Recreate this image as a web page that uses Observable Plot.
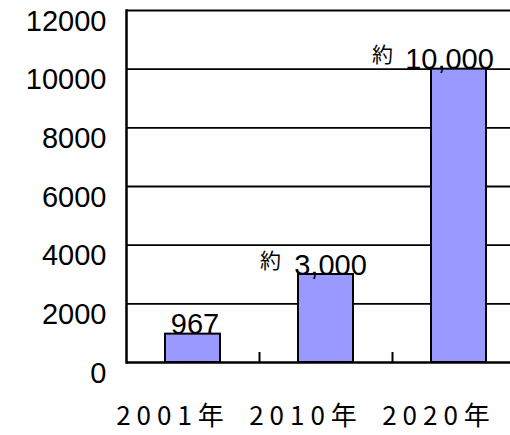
<!DOCTYPE html>
<html>
<head>
<meta charset="utf-8">
<script src="https://cdn.jsdelivr.net/npm/d3@7"></script>
<script src="https://cdn.jsdelivr.net/npm/@observablehq/plot@0.6"></script>
<style>
  html, body { margin: 0; padding: 0; background: #fff; overflow: hidden; }
  #chart svg { display: block; }
  g[aria-label="x-axis tick label"] text { letter-spacing: 6px; }
</style>
</head>
<body>
<div id="chart"></div>
<script>
const years = ["2001年", "2010年", "2020年"];
const values = [967, 3000, 10000];
const valueLabels = ["967", "3,000", "10,000"];
const prefixes = ["", "約", "約"];
const yTicks = [0, 2000, 4000, 6000, 8000, 10000, 12000];

const idx = values.map((d, i) => i);
const numDx = [2, 4.5, -9.5];
const preDx = [0, -45, -66];

const marks = [
  Plot.ruleY(yTicks.filter(d => d > 0 && d < 12000), {stroke: "#000", strokeWidth: 1.8}),
  Plot.ruleY([12000], {stroke: "#000", strokeWidth: 2.2}),
  Plot.barY(idx, {x: i => years[i], y: i => values[i], fill: "#9999ff", stroke: "#000", strokeWidth: 2}),
  Plot.ruleY([0], {stroke: "#000", strokeWidth: 2.5}),
  Plot.frame({anchor: "left", stroke: "#000", strokeWidth: 2.5}),
  Plot.ruleX(years.slice(0, 2), {x: d => d, dx: 66.5, insetTop: 342, stroke: "#000", strokeWidth: 2}),
  Plot.axisY({ticks: yTicks, tickSize: 0, tickPadding: 20, fontSize: 29, fontFamily: "Liberation Sans, Arial, sans-serif", dy: 11, tickFormat: d => String(d), fill: "#000"}),
  Plot.axisX({tickSize: 0, tickPadding: 44, fontSize: 26, fontFamily: "Noto Sans CJK JP, sans-serif", dx: -20, fill: "#000"})
];
idx.forEach(i => {
  marks.push(Plot.text([i], {x: j => years[j], y: j => values[j], text: j => valueLabels[j], lineAnchor: "bottom", dx: numDx[i], dy: 0, fontSize: 29, fontFamily: "Liberation Sans, Arial, sans-serif", fill: "#000"}));
  if (prefixes[i]) {
    marks.push(Plot.text([i], {x: j => years[j], y: j => values[j], text: j => prefixes[j], lineAnchor: "bottom", textAnchor: "end", dx: preDx[i], dy: -7, fontSize: 21, fontFamily: "Noto Sans CJK JP, sans-serif", fill: "#000"}));
  }
});

const chart = Plot.plot({
  width: 510,
  height: 435,
  marginLeft: 126,
  marginRight: 0,
  marginTop: 10,
  marginBottom: 73,
  style: {background: "#fff", color: "#000", overflow: "visible"},
  x: {domain: years, range: [125.5, 524.5], paddingInner: 0.59, paddingOuter: 0.295, align: 0.5},
  y: {domain: [0, 12000]},
  marks
});
document.getElementById("chart").appendChild(chart);
</script>
</body>
</html>
